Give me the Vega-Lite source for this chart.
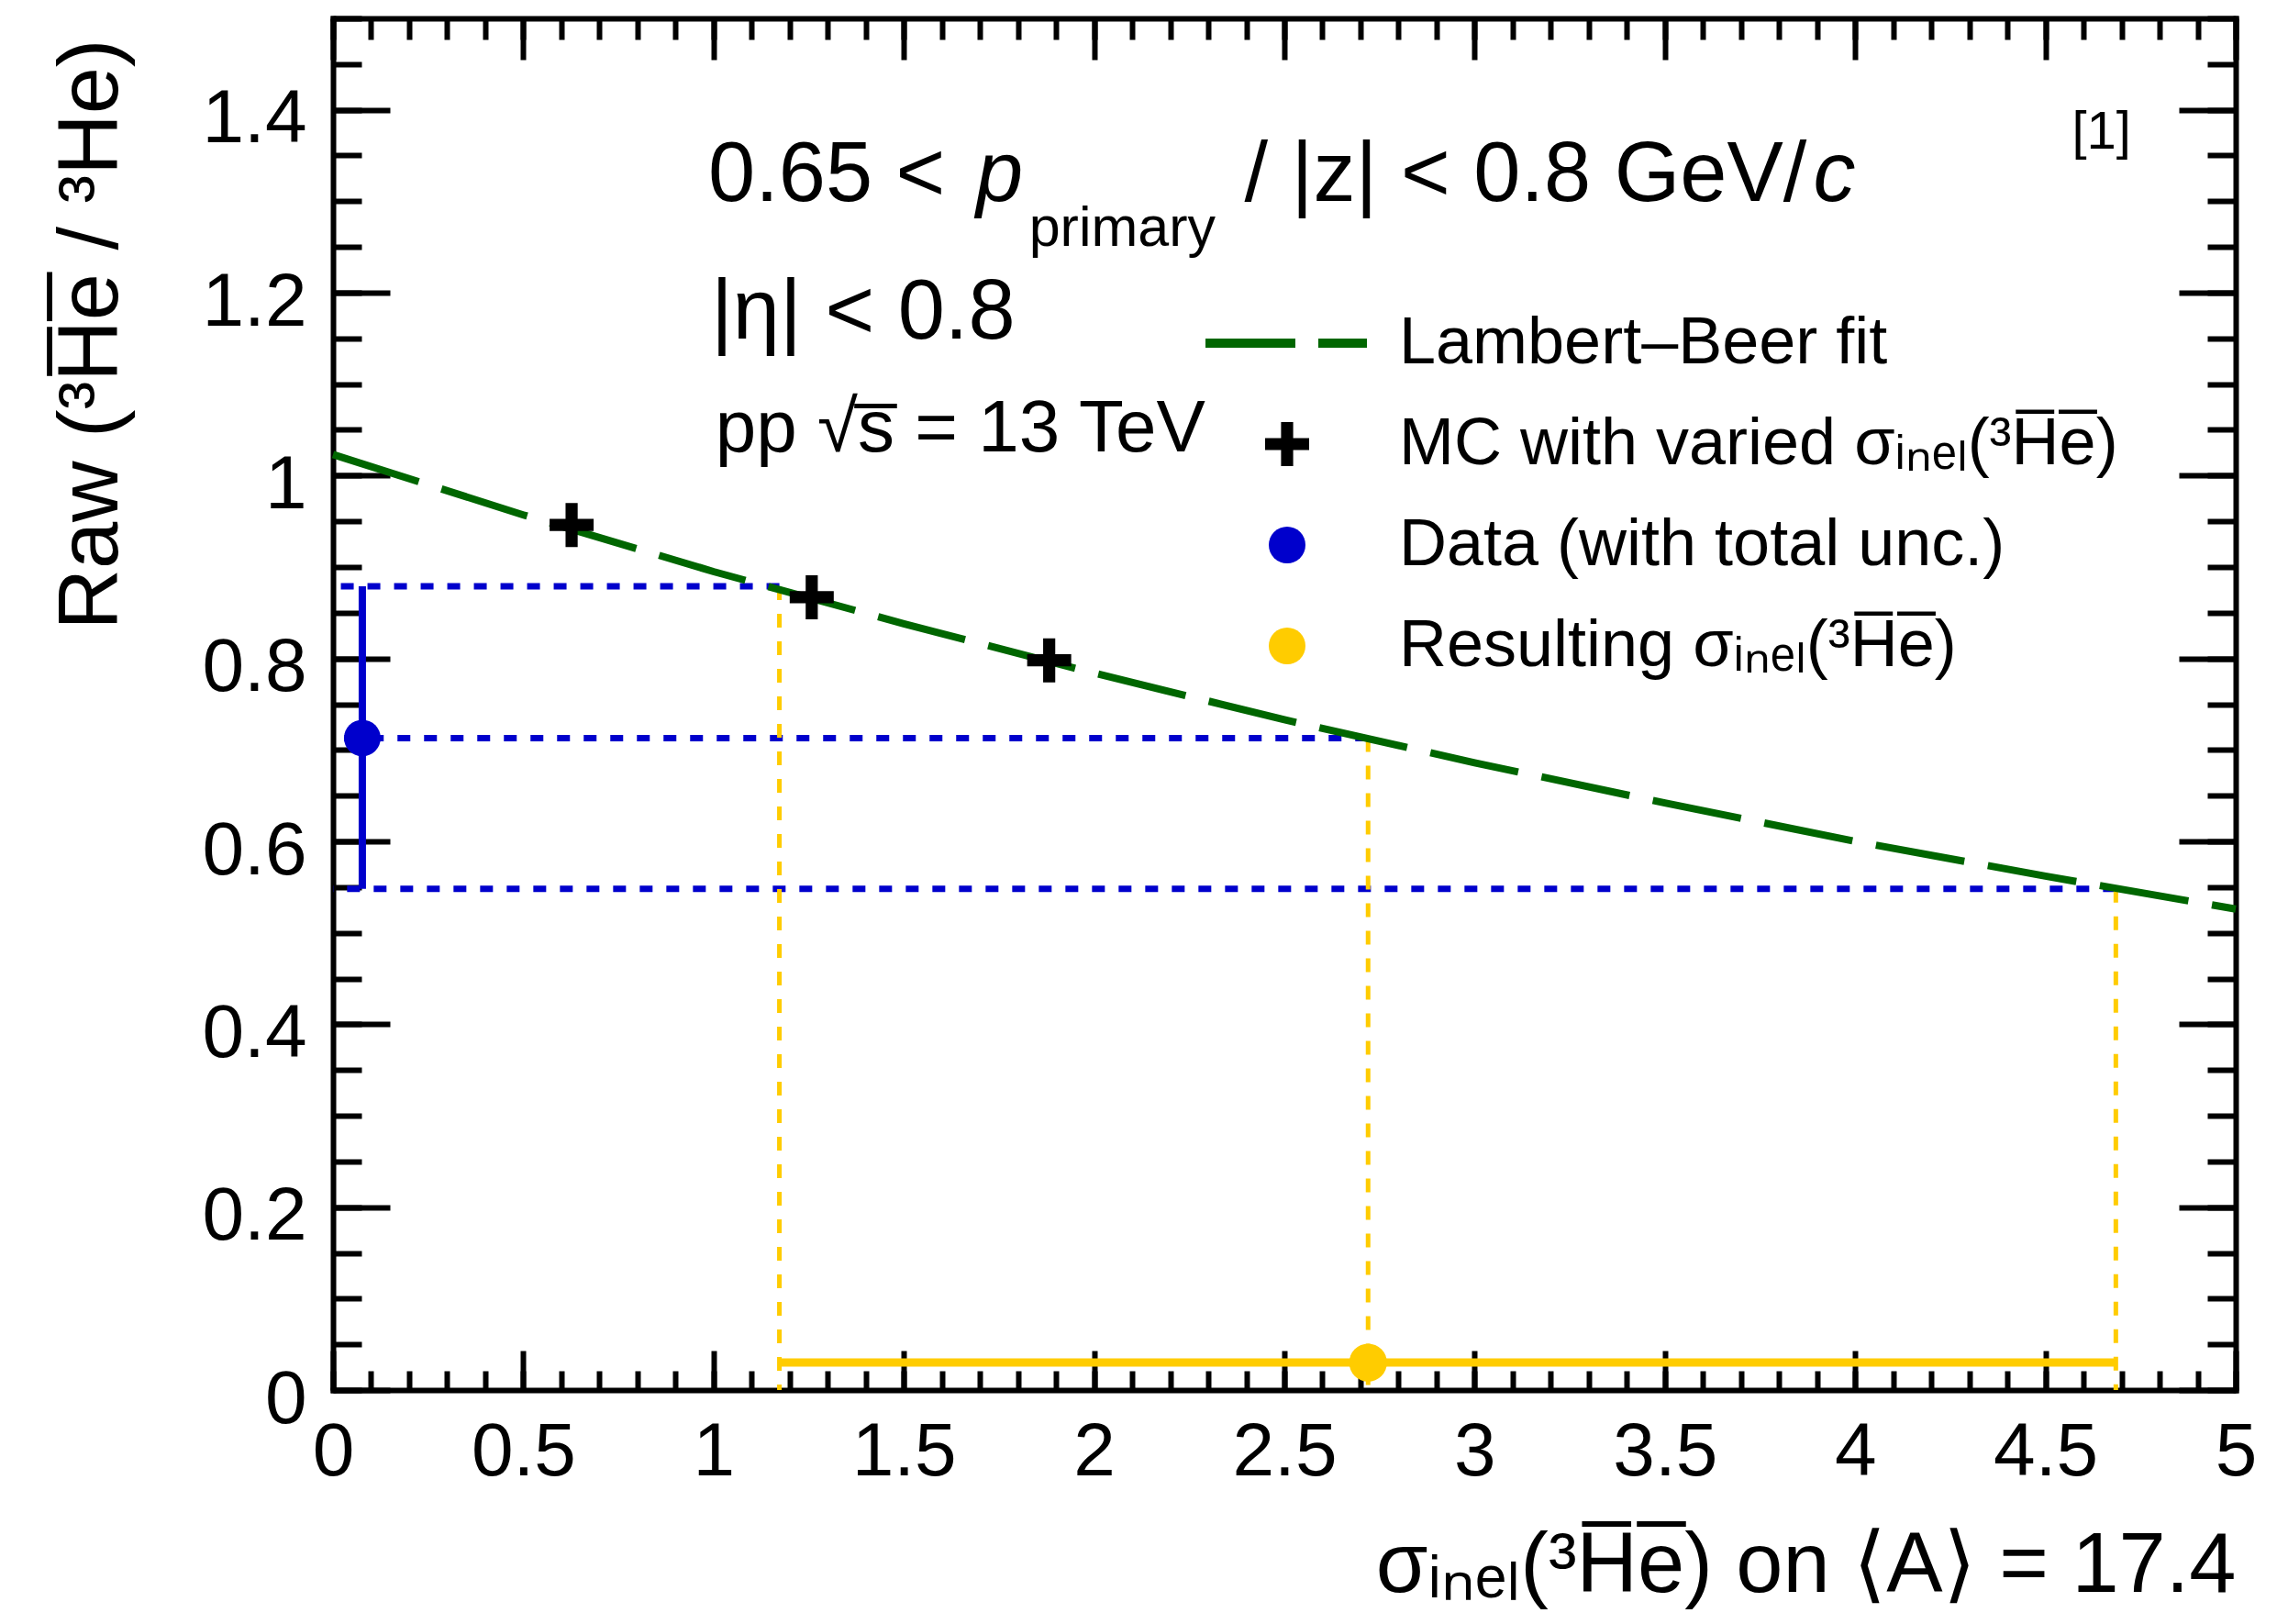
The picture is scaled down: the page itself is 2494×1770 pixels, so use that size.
{
  "$schema": "https://vega.github.io/schema/vega-lite/v6.json",
  "width": 2074,
  "height": 1495,
  "autosize": {"type": "none"},
  "padding": {"left": 363, "top": 20, "right": 57, "bottom": 255},
  "background": "white",
  "datasets": {
    "fit": [
      {"sigma": 0, "raw": 1.023}, {"sigma": 0.5, "raw": 0.957}, {"sigma": 1, "raw": 0.895},
      {"sigma": 1.5, "raw": 0.838}, {"sigma": 2, "raw": 0.784}, {"sigma": 2.5, "raw": 0.733},
      {"sigma": 3, "raw": 0.686}, {"sigma": 3.5, "raw": 0.642}, {"sigma": 4, "raw": 0.6},
      {"sigma": 4.5, "raw": 0.562}, {"sigma": 5, "raw": 0.526}
    ],
    "mc": [
      {"sigma": 0.627, "raw": 0.946, "series": "MC with varied σᵢₙₑₗ(³H̅e̅)"},
      {"sigma": 1.258, "raw": 0.867, "series": "MC with varied σᵢₙₑₗ(³H̅e̅)"},
      {"sigma": 1.882, "raw": 0.798, "series": "MC with varied σᵢₙₑₗ(³H̅e̅)"}
    ],
    "measured": [
      {"sigma": 0.077, "raw": 0.713, "lo": 0.548, "hi": 0.879, "series": "Data (with total unc.)"}
    ],
    "result": [
      {"sigma": 2.72, "lo": 1.173, "hi": 4.685, "raw": 0.03, "series": "Resulting σᵢₙₑₗ(³H̅e̅)"}
    ],
    "proj": [
      {"sigma": 1.173, "raw": 0.879},
      {"sigma": 2.72, "raw": 0.713},
      {"sigma": 4.685, "raw": 0.548}
    ]
  },
  "resolve": {"axis": {"x": "independent", "y": "independent"}},
  "layer": [
    {
      "data": {"name": "proj"},
      "mark": {"type": "rule", "color": "#0000cc", "strokeWidth": 7, "strokeDash": [14, 15]},
      "encoding": {
        "x": {"field": "sigma", "type": "quantitative", "scale": {"domain": [0, 5], "nice": false, "zero": false},
          "axis": {"orient": "bottom", "values": [0, 0.5, 1, 1.5, 2, 2.5, 3, 3.5, 4, 4.5, 5], "format": "~g",
            "ticks": false, "domain": true, "domainColor": "black", "domainWidth": 6, "domainCap": "square",
            "labelFont": "Liberation Sans", "labelFontSize": 82, "labelPadding": 27, "labelColor": "black",
            "labelFlush": false, "labelOverlap": false, "grid": false,
            "title": "σᵢₙₑₗ(³H̅e̅) on ⟨A⟩ = 17.4", "titleFont": "Liberation Sans", "titleFontSize": 92,
            "titleFontWeight": "normal", "titleColor": "black", "titleAlign": "right", "titleAngle": 0,
            "titleBaseline": "alphabetic", "titleX": 2074, "titleY": 219}},
        "x2": {"datum": 0},
        "y": {"field": "raw", "type": "quantitative", "scale": {"domain": [0, 1.5], "nice": false, "zero": false},
          "axis": {"orient": "left", "values": [0, 0.2, 0.4, 0.6, 0.8, 1, 1.2, 1.4], "format": "~g",
            "ticks": false, "domain": true, "domainColor": "black", "domainWidth": 6, "domainCap": "square",
            "labelFont": "Liberation Sans", "labelFontSize": 82, "labelPadding": 29, "labelOffset": 10,
            "labelColor": "black", "labelFlush": false, "labelOverlap": false, "grid": false,
            "title": "Raw (³H̅e̅ / ³He)", "titleFont": "Liberation Sans", "titleFontSize": 92,
            "titleFontWeight": "normal", "titleColor": "black", "titleAngle": -90, "titleAlign": "right",
            "titleBaseline": "alphabetic", "titleX": -236, "titleY": 22}}
      }
    },
    {
      "data": {"name": "proj"},
      "mark": {"type": "rule", "color": "#ffcc00", "strokeWidth": 5, "strokeDash": [15, 15]},
      "encoding": {
        "x": {"field": "sigma", "type": "quantitative", "scale": {"domain": [0, 5], "nice": false, "zero": false},
          "axis": {"orient": "bottom", "values": [0, 0.5, 1, 1.5, 2, 2.5, 3, 3.5, 4, 4.5, 5], "labels": false,
            "domain": false, "ticks": true, "tickSize": -43, "tickWidth": 6, "tickColor": "black", "grid": false, "title": null}},
        "y": {"field": "raw", "type": "quantitative", "scale": {"domain": [0, 1.5], "nice": false, "zero": false},
          "axis": {"orient": "left", "values": [0, 0.2, 0.4, 0.6, 0.8, 1, 1.2, 1.4], "labels": false,
            "domain": false, "ticks": true, "tickSize": -62, "tickWidth": 6, "tickColor": "black", "grid": false, "title": null}},
        "y2": {"datum": 0}
      }
    },
    {
      "data": {"name": "fit"},
      "mark": {"type": "line", "color": "#006600", "strokeWidth": 8, "strokeDash": [98, 26]},
      "encoding": {
        "x": {"field": "sigma", "type": "quantitative", "scale": {"domain": [0, 5], "nice": false, "zero": false},
          "axis": {"orient": "bottom", "values": [0, 0.1, 0.2, 0.3, 0.4, 0.5, 0.6, 0.7, 0.8, 0.9, 1, 1.1, 1.2, 1.3, 1.4, 1.5, 1.6, 1.7, 1.8, 1.9, 2, 2.1, 2.2, 2.3, 2.4, 2.5, 2.6, 2.7, 2.8, 2.9, 3, 3.1, 3.2, 3.3, 3.4, 3.5, 3.6, 3.7, 3.8, 3.9, 4, 4.1, 4.2, 4.3, 4.4, 4.5, 4.6, 4.7, 4.8, 4.9, 5],
            "labels": false, "domain": false, "ticks": true, "tickSize": -21, "tickWidth": 6, "tickColor": "black", "grid": false, "title": null}},
        "y": {"field": "raw", "type": "quantitative", "scale": {"domain": [0, 1.5], "nice": false, "zero": false},
          "axis": {"orient": "left", "values": [0, 0.05, 0.1, 0.15, 0.2, 0.25, 0.3, 0.35, 0.4, 0.45, 0.5, 0.55, 0.6, 0.65, 0.7, 0.75, 0.8, 0.85, 0.9, 0.95, 1, 1.05, 1.1, 1.15, 1.2, 1.25, 1.3, 1.35, 1.4, 1.45, 1.5],
            "labels": false, "domain": false, "ticks": true, "tickSize": -31, "tickWidth": 6, "tickColor": "black", "grid": false, "title": null}}
      }
    },
    {
      "data": {"name": "measured"},
      "mark": {"type": "rule", "color": "#0000cc", "strokeWidth": 8},
      "encoding": {
        "x": {"field": "sigma", "type": "quantitative", "scale": {"domain": [0, 5], "nice": false, "zero": false},
          "axis": {"orient": "top", "values": [0, 0.5, 1, 1.5, 2, 2.5, 3, 3.5, 4, 4.5, 5], "labels": false,
            "domain": true, "domainColor": "black", "domainWidth": 6, "domainCap": "square",
            "ticks": true, "tickSize": -45, "tickWidth": 6, "tickColor": "black", "grid": false, "title": null}},
        "y": {"field": "lo", "type": "quantitative", "scale": {"domain": [0, 1.5], "nice": false, "zero": false},
          "axis": {"orient": "right", "values": [0, 0.2, 0.4, 0.6, 0.8, 1, 1.2, 1.4], "labels": false,
            "domain": true, "domainColor": "black", "domainWidth": 6, "domainCap": "square",
            "ticks": true, "tickSize": -62, "tickWidth": 6, "tickColor": "black", "grid": false, "title": null}},
        "y2": {"field": "hi"}
      }
    },
    {
      "data": {"name": "result"},
      "mark": {"type": "rule", "color": "#ffcc00", "strokeWidth": 9},
      "encoding": {
        "x": {"field": "lo", "type": "quantitative", "scale": {"domain": [0, 5], "nice": false, "zero": false},
          "axis": {"orient": "top", "values": [0, 0.1, 0.2, 0.3, 0.4, 0.5, 0.6, 0.7, 0.8, 0.9, 1, 1.1, 1.2, 1.3, 1.4, 1.5, 1.6, 1.7, 1.8, 1.9, 2, 2.1, 2.2, 2.3, 2.4, 2.5, 2.6, 2.7, 2.8, 2.9, 3, 3.1, 3.2, 3.3, 3.4, 3.5, 3.6, 3.7, 3.8, 3.9, 4, 4.1, 4.2, 4.3, 4.4, 4.5, 4.6, 4.7, 4.8, 4.9, 5],
            "labels": false, "domain": false, "ticks": true, "tickSize": -23, "tickWidth": 6, "tickColor": "black", "grid": false, "title": null}},
        "x2": {"field": "hi"},
        "y": {"field": "raw", "type": "quantitative", "scale": {"domain": [0, 1.5], "nice": false, "zero": false},
          "axis": {"orient": "right", "values": [0, 0.05, 0.1, 0.15, 0.2, 0.25, 0.3, 0.35, 0.4, 0.45, 0.5, 0.55, 0.6, 0.65, 0.7, 0.75, 0.8, 0.85, 0.9, 0.95, 1, 1.05, 1.1, 1.15, 1.2, 1.25, 1.3, 1.35, 1.4, 1.45, 1.5],
            "labels": false, "domain": false, "ticks": true, "tickSize": -31, "tickWidth": 6, "tickColor": "black", "grid": false, "title": null}}
      }
    },
    {
      "data": {"name": "measured"},
      "mark": {"type": "point", "filled": true, "size": 1600, "opacity": 1, "strokeWidth": 0},
      "encoding": {
        "x": {"field": "sigma", "type": "quantitative", "scale": {"domain": [0, 5], "nice": false, "zero": false}, "axis": null},
        "y": {"field": "raw", "type": "quantitative", "scale": {"domain": [0, 1.5], "nice": false, "zero": false}, "axis": null},
        "color": {"field": "series", "type": "nominal",
          "scale": {"domain": ["Lambert–Beer fit", "MC with varied σᵢₙₑₗ(³H̅e̅)", "Data (with total unc.)", "Resulting σᵢₙₑₗ(³H̅e̅)"],
            "range": ["#006600", "#000000", "#0000cc", "#ffcc00"]},
          "legend": {"orient": "none", "legendX": 1004, "legendY": 318, "direction": "vertical", "title": null,
            "symbolSize": 1600, "symbolStrokeWidth": 0, "symbolOpacity": 1, "labelFont": "Liberation Sans",
            "labelFontSize": 72, "labelColor": "black", "labelOffset": 86, "labelLimit": 0, "rowPadding": 38, "padding": 0}},
        "shape": {"field": "series", "type": "nominal",
          "scale": {"domain": ["Lambert–Beer fit", "MC with varied σᵢₙₑₗ(³H̅e̅)", "Data (with total unc.)", "Resulting σᵢₙₑₗ(³H̅e̅)"],
            "range": ["M-4.45,-0.25H0.45V0.25H-4.45Z M1.7,-0.25H4.35V0.25H1.7Z", "M-1.2,-0.33H-0.33V-1.2H0.33V-0.33H1.2V0.33H0.33V1.2H-0.33V0.33H-1.2Z", "circle", "circle"]},
          "legend": {"orient": "none", "legendX": 1004, "legendY": 318, "direction": "vertical", "title": null,
            "symbolSize": 1600, "symbolStrokeWidth": 0, "symbolOpacity": 1, "labelFont": "Liberation Sans",
            "labelFontSize": 72, "labelColor": "black", "labelOffset": 86, "labelLimit": 0, "rowPadding": 38, "padding": 0}}
      }
    },
    {
      "data": {"name": "result"},
      "mark": {"type": "point", "filled": true, "size": 1700, "opacity": 1, "strokeWidth": 0},
      "encoding": {
        "x": {"field": "sigma", "type": "quantitative", "scale": {"domain": [0, 5], "nice": false, "zero": false}, "axis": null},
        "y": {"field": "raw", "type": "quantitative", "scale": {"domain": [0, 1.5], "nice": false, "zero": false}, "axis": null},
        "color": {"field": "series", "type": "nominal"},
        "shape": {"field": "series", "type": "nominal"}
      }
    },
    {
      "data": {"name": "mc"},
      "mark": {"type": "point", "filled": true, "size": 1600, "opacity": 1, "strokeWidth": 0},
      "encoding": {
        "x": {"field": "sigma", "type": "quantitative", "scale": {"domain": [0, 5], "nice": false, "zero": false}, "axis": null},
        "y": {"field": "raw", "type": "quantitative", "scale": {"domain": [0, 1.5], "nice": false, "zero": false}, "axis": null},
        "color": {"field": "series", "type": "nominal"},
        "shape": {"field": "series", "type": "nominal"}
      }
    },
    {
      "data": {"values": [{}]},
      "mark": {"type": "text", "text": "0.65 <", "font": "Liberation Sans", "fontSize": 92, "align": "left", "baseline": "alphabetic", "color": "black"},
      "encoding": {
        "x": {"datum": 0.986, "type": "quantitative", "scale": {"domain": [0, 5], "nice": false, "zero": false}, "axis": null},
        "y": {"datum": 1.3, "type": "quantitative", "scale": {"domain": [0, 1.5], "nice": false, "zero": false}, "axis": null}
      }
    },
    {
      "data": {"values": [{}]},
      "mark": {"type": "text", "text": "p", "font": "Liberation Sans", "fontStyle": "italic", "fontSize": 92, "align": "left", "baseline": "alphabetic", "color": "black"},
      "encoding": {
        "x": {"datum": 1.69, "type": "quantitative", "scale": {"domain": [0, 5], "nice": false, "zero": false}, "axis": null},
        "y": {"datum": 1.3, "type": "quantitative", "scale": {"domain": [0, 1.5], "nice": false, "zero": false}, "axis": null}
      }
    },
    {
      "data": {"values": [{}]},
      "mark": {"type": "text", "text": "primary", "font": "Liberation Sans", "fontSize": 61, "align": "left", "baseline": "alphabetic", "color": "black"},
      "encoding": {
        "x": {"datum": 1.829, "type": "quantitative", "scale": {"domain": [0, 5], "nice": false, "zero": false}, "axis": null},
        "y": {"datum": 1.251, "type": "quantitative", "scale": {"domain": [0, 1.5], "nice": false, "zero": false}, "axis": null}
      }
    },
    {
      "data": {"values": [{}]},
      "mark": {"type": "text", "text": "/ |z| < 0.8 GeV/", "font": "Liberation Sans", "fontSize": 92, "align": "left", "baseline": "alphabetic", "color": "black"},
      "encoding": {
        "x": {"datum": 2.395, "type": "quantitative", "scale": {"domain": [0, 5], "nice": false, "zero": false}, "axis": null},
        "y": {"datum": 1.3, "type": "quantitative", "scale": {"domain": [0, 1.5], "nice": false, "zero": false}, "axis": null}
      }
    },
    {
      "data": {"values": [{}]},
      "mark": {"type": "text", "text": "c", "font": "Liberation Sans", "fontStyle": "italic", "fontSize": 92, "align": "left", "baseline": "alphabetic", "color": "black"},
      "encoding": {
        "x": {"datum": 3.89, "type": "quantitative", "scale": {"domain": [0, 5], "nice": false, "zero": false}, "axis": null},
        "y": {"datum": 1.3, "type": "quantitative", "scale": {"domain": [0, 1.5], "nice": false, "zero": false}, "axis": null}
      }
    },
    {
      "data": {"values": [{}]},
      "mark": {"type": "text", "text": "|η| < 0.8", "font": "Liberation Sans", "fontSize": 92, "align": "left", "baseline": "alphabetic", "color": "black"},
      "encoding": {
        "x": {"datum": 0.993, "type": "quantitative", "scale": {"domain": [0, 5], "nice": false, "zero": false}, "axis": null},
        "y": {"datum": 1.15, "type": "quantitative", "scale": {"domain": [0, 1.5], "nice": false, "zero": false}, "axis": null}
      }
    },
    {
      "data": {"values": [{}]},
      "mark": {"type": "text", "text": "pp √s̅ = 13 TeV", "font": "Liberation Sans", "fontSize": 80, "align": "left", "baseline": "alphabetic", "color": "black"},
      "encoding": {
        "x": {"datum": 1.005, "type": "quantitative", "scale": {"domain": [0, 5], "nice": false, "zero": false}, "axis": null},
        "y": {"datum": 1.026, "type": "quantitative", "scale": {"domain": [0, 1.5], "nice": false, "zero": false}, "axis": null}
      }
    },
    {
      "data": {"values": [{}]},
      "mark": {"type": "text", "text": "[1]", "font": "Liberation Sans", "fontSize": 58, "align": "right", "baseline": "alphabetic", "color": "black"},
      "encoding": {
        "x": {"datum": 4.725, "type": "quantitative", "scale": {"domain": [0, 5], "nice": false, "zero": false}, "axis": null},
        "y": {"datum": 1.358, "type": "quantitative", "scale": {"domain": [0, 1.5], "nice": false, "zero": false}, "axis": null}
      }
    }
  ],
  "config": {
    "view": {"stroke": null},
    "font": "Liberation Sans"
  }
}
